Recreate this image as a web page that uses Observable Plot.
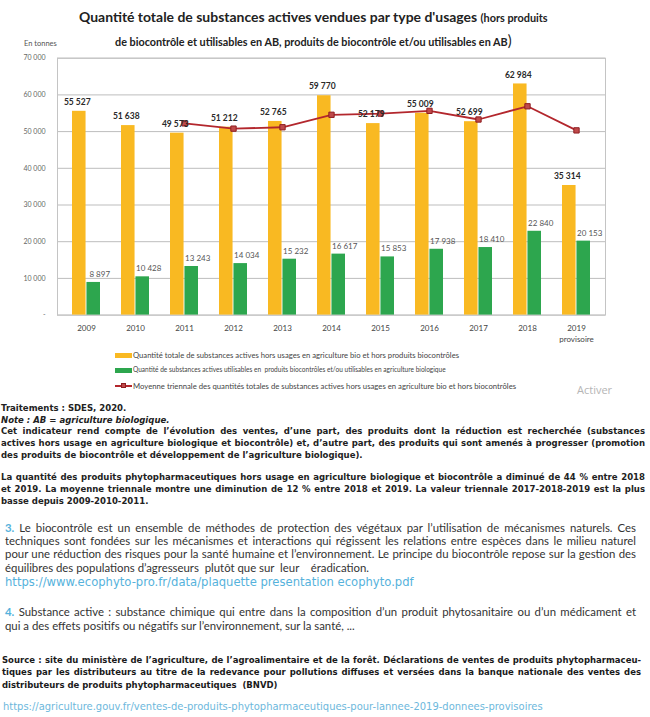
<!DOCTYPE html>
<html><head><meta charset="utf-8">
<script src="https://cdn.jsdelivr.net/npm/d3@7"></script>
<script src="https://cdn.jsdelivr.net/npm/@observablehq/plot@0.6"></script>
<style>
body{margin:0;background:#fff;width:650px;height:717px;overflow:hidden;position:relative;font-family:Lato,"Open Sans",sans-serif;}
.abs{position:absolute;white-space:nowrap;}
#chart{position:absolute;left:0;top:48px;}
</style></head><body>
<div id="chart"></div>
<script>
// ---------- data ----------
const years = ["2009","2010","2011","2012","2013","2014","2015","2016","2017","2018","2019"];
const xTickLabels = ["2009","2010","2011","2012","2013","2014","2015","2016","2017","2018","2019\nprovisoire"];
const totalHorsBio = [55527,51638,49573,51212,52765,59770,52179,55009,52699,62984,35314];
const bioBiocontrole = [8897,10428,13243,14034,15232,16617,15853,17938,18410,22840,20153];
const moyenneYears = ["2011","2012","2013","2014","2015","2016","2017","2018","2019"];
const moyenneTriennale = [52246,50808,51183,54582,54905,55653,53296,56897,50332];
const yTicks = [0,10000,20000,30000,40000,50000,60000,70000];

const legendLabels = [
  "Quantité totale de substances actives hors usages en agriculture bio et hors produits biocontrôles",
  "Quantité de substances actives utilisables en  produits biocontrôles et/ou utilisables en agriculture biologique",
  "Moyenne triennale des quantités totales de substances actives hors usages en agriculture bio et hors biocontrôles"
];

// ---------- chart ----------
const fmt = v => d3.format(",")(v).replace(/,/g, " ");
const dataTotal = years.map((y,i)=>({year:y, value:totalHorsBio[i]}));
const dataBio = years.map((y,i)=>({year:y, value:bioBiocontrole[i]}));
const dataMoy = moyenneYears.map((y,i)=>({year:y, value:moyenneTriennale[i]}));

const W = 650, H = 300, mL = 57, mR = 45, mT = 9.7, mB = 33.4;
const step = (W - mL - mR) / years.length;
const bw = step * 0.58;

const yellow = "#F9B922", green = "#2DA64E", red = "#B3272D";

const chart = Plot.plot({
  width: W, height: H,
  marginLeft: mL, marginRight: mR, marginTop: mT, marginBottom: mB,
  style: {fontFamily: "Lato, 'Open Sans', sans-serif", fontSize: "8px", color: "#444", background: "transparent", overflow: "visible"},
  x: {type: "band", domain: years, paddingInner: 0.42, paddingOuter: 0.21, axis: null},
  y: {domain: [0, 70000], axis: null},
  marks: [
    Plot.gridY(yTicks, {stroke: "#bdbdbd", strokeOpacity: 1}),
    Plot.frame({stroke: "#c4c4c4"}),
    Plot.axisY(yTicks, {tickSize: 0, tickPadding: 12, fontSize: 7, fill: "#666", label: null,
      tickFormat: d => d === 0 ? "-" : fmt(d)}),
    Plot.axisX({tickSize: 0, tickPadding: 8, fontSize: 8, fill: "#444", lineHeight: 1.35, label: null,
      tickFormat: d => xTickLabels[years.indexOf(d)]}),
    Plot.barY(dataTotal, {x: "year", y: "value", fill: yellow, insetRight: bw/2}),
    Plot.barY(dataBio, {x: "year", y: "value", fill: green, insetLeft: bw/2}),
    Plot.lineY(dataMoy, {x: "year", y: "value", stroke: red, strokeWidth: 1.8}),
    Plot.dot(dataMoy, {x: "year", y: "value", symbol: "square", r: 3, fill: "#BF4A4A", stroke: "#8E1E22", strokeWidth: 1}),
    Plot.text(dataTotal, {x: "year", y: "value", text: d => fmt(d.value), dx: -bw/4 - 2, dy: -9,
      fontWeight: "bold", fontSize: 8.5, fill: "#2a2a2a"}),
    Plot.text(dataBio, {x: "year", y: "value", text: d => fmt(d.value), dx: bw/4 + 6, dy: -8,
      fontSize: 8, fill: "#555"})
  ]
});
document.getElementById("chart").appendChild(chart);

// ---------- helpers ----------
function addLine(html, x, y, lh, style){
  const d = document.createElement("div");
  d.className = "abs";
  Object.assign(d.style, {left: x+"px", top: (y - lh/2)+"px", lineHeight: lh+"px", fontSize: "10px"}, style||{});
  const s = document.createElement("span");
  s.innerHTML = html;
  d.appendChild(s);
  document.body.appendChild(d);
  return {d, s};
}
function fitTo(el, target){
  const w = el.s.getBoundingClientRect().width;
  const fs = parseFloat(el.d.style.fontSize);
  el.d.style.fontSize = (fs * target / w) + "px";
}
function section(lines, opts){
  const els = lines.map(l => Object.assign(addLine(l.html, l.x ?? opts.x, l.y, opts.lh,
     Object.assign({fontFamily: opts.font, fontWeight: opts.weight || "normal", color: opts.color, whiteSpace: l.pre ? "pre" : "nowrap"}, l.style||{})), {l}));
  let ratio = Infinity;
  els.forEach(e => { if (e.l.just) { const w = e.s.getBoundingClientRect().width; ratio = Math.min(ratio, (opts.right - (e.l.x ?? opts.x)) / w); }});
  const fs = 10 * ratio * (opts.shrink || 0.99);
  els.forEach(e => {
    e.d.style.fontSize = fs + "px";
    if (e.l.just) {
      e.d.style.width = (opts.right - (e.l.x ?? opts.x)) + "px";
      e.d.style.textAlign = "justify"; e.d.style.textAlignLast = "justify";
    }
  });
  return els;
}

// ---------- title ----------
const t1 = addLine("Quantité totale de substances actives vendues par type d'usages <span style='font-size:0.78em'>(hors produits</span>", 79, 17, 20,
  {fontFamily: "Lato, sans-serif", fontWeight: "bold", color: "#222", fontSize: "14px"});
fitTo(t1, 548 - 79);
const t2 = addLine("de biocontrôle et utilisables en AB, produits de biocontrôle et/ou utilisables en AB<span style='font-size:1.35em;font-weight:normal'>)</span>", 115, 41, 20,
  {fontFamily: "Lato, sans-serif", fontWeight: "bold", color: "#222", fontSize: "11px"});
fitTo(t2, 512 - 115);
addLine("En tonnes", 24, 44, 10, {fontFamily: "Lato, sans-serif", fontSize: "7.5px", color: "#555"});

// ---------- legend ----------
const legY = [355, 370, 386];
const legEnd = [460, 446, 517];
legendLabels.forEach((lab, i) => {
  const sw = document.createElement("div");
  sw.className = "abs";
  if (i < 2) {
    Object.assign(sw.style, {left: "115px", top: (legY[i]-2.5)+"px", width: "17px", height: "5px", background: i === 0 ? yellow : green});
  } else {
    Object.assign(sw.style, {left: "115px", top: (legY[i]-1)+"px", width: "17px", height: "2px", background: red});
    const sq = document.createElement("div");
    Object.assign(sq.style, {position: "absolute", left: "5.5px", top: "-2.5px", width: "5px", height: "5px", background: "#BF4A4A", boxSizing: "border-box", border: "1px solid #8E1E22"});
    sw.appendChild(sq);
  }
  document.body.appendChild(sw);
  const el = addLine(lab, 133, legY[i], 10, {fontFamily: "Lato, sans-serif", color: "#444", fontSize: "8px", whiteSpace: "pre"});
  fitTo(el, legEnd[i] - 133);
});
addLine("Activer", 577, 390, 14, {fontFamily: "'Open Sans', sans-serif", fontSize: "11px", color: "#b5b5b5"});

// ---------- text blocks ----------
section([
  {html: "Traitements : SDES, 2020.", y: 408},
  {html: "<i>Note : AB = agriculture biologique.</i>", y: 419.5},
  {html: "Cet indicateur rend compte de l’évolution des ventes, d’une part, des produits dont la réduction est recherchée (substances", y: 431, just: true},
  {html: "actives hors usage en agriculture biologique et biocontrôle) et, d’autre part, des produits qui sont amenés à progresser (promotion", y: 443, just: true},
  {html: "des produits de biocontrôle et développement de l’agriculture biologique).", y: 454.5},
  {html: "La quantité des produits phytopharmaceutiques hors usage en agriculture biologique et biocontrôle a diminué de 44 % entre 2018", y: 477, just: true},
  {html: "et 2019. La moyenne triennale montre une diminution de 12 % entre 2018 et 2019. La valeur triennale 2017-2018-2019 est la plus", y: 489, just: true},
  {html: "basse depuis 2009-2010-2011.", y: 500.5}
], {x: 1, right: 645, lh: 12, font: "'DejaVu Sans', sans-serif", weight: "bold", color: "#222"});

const blue = "#55b2dc";
section([
  {html: "<b style='color:" + blue + "'>3.</b> Le biocontrôle est un ensemble de méthodes de protection des végétaux par l’utilisation de mécanismes naturels. Ces", y: 527, just: true},
  {html: "techniques sont fondées sur les mécanismes et interactions qui régissent les relations entre espèces dans le milieu naturel", y: 540, just: true},
  {html: "pour une réduction des risques pour la santé humaine et l’environnement. Le principe du biocontrôle repose sur la gestion des", y: 553, just: true},
  {html: "équilibres des populations d’agresseurs  plutôt que sur  leur    éradication.", y: 567, pre: true},
  {html: "<b style='color:" + blue + "'>4.</b> Substance active : substance chimique qui entre dans la composition d’un produit phytosanitaire ou d’un médicament et", y: 611, just: true},
  {html: "qui a des effets positifs ou négatifs sur l’environnement, sur la santé, ...", y: 625}
], {x: 5, right: 636, lh: 13, font: "Lato, sans-serif", weight: "normal", color: "#333"});

const u1 = addLine("https://www.ecophyto-pro.fr/data/plaquette presentation ecophyto.pdf", 5, 582, 14,
  {fontFamily: "'DejaVu Sans', sans-serif", color: blue, fontSize: "11px"});
fitTo(u1, 414 - 5);

section([
  {html: "Source : site du ministère de l’agriculture, de l’agroalimentaire et de la forêt. Déclarations de ventes de produits phytopharmaceu-", y: 660, just: true},
  {html: "tiques par les distributeurs au titre de la redevance pour pollutions diffuses et versées dans la banque nationale des ventes des", y: 672.5, just: true},
  {html: "distributeurs de produits phytopharmaceutiques  (BNVD)", y: 685, pre: true}
], {x: 2, right: 641, lh: 12.5, font: "'DejaVu Sans', sans-serif", weight: "bold", color: "#1a1a1a"});

const u2 = addLine("https://agriculture.gouv.fr/ventes-de-produits-phytopharmaceutiques-pour-lannee-2019-donnees-provisoires", 3, 707, 12,
  {fontFamily: "'DejaVu Sans', sans-serif", color: "#6db8dc", fontSize: "10px"});
fitTo(u2, 543 - 3);
</script>
</body></html>
